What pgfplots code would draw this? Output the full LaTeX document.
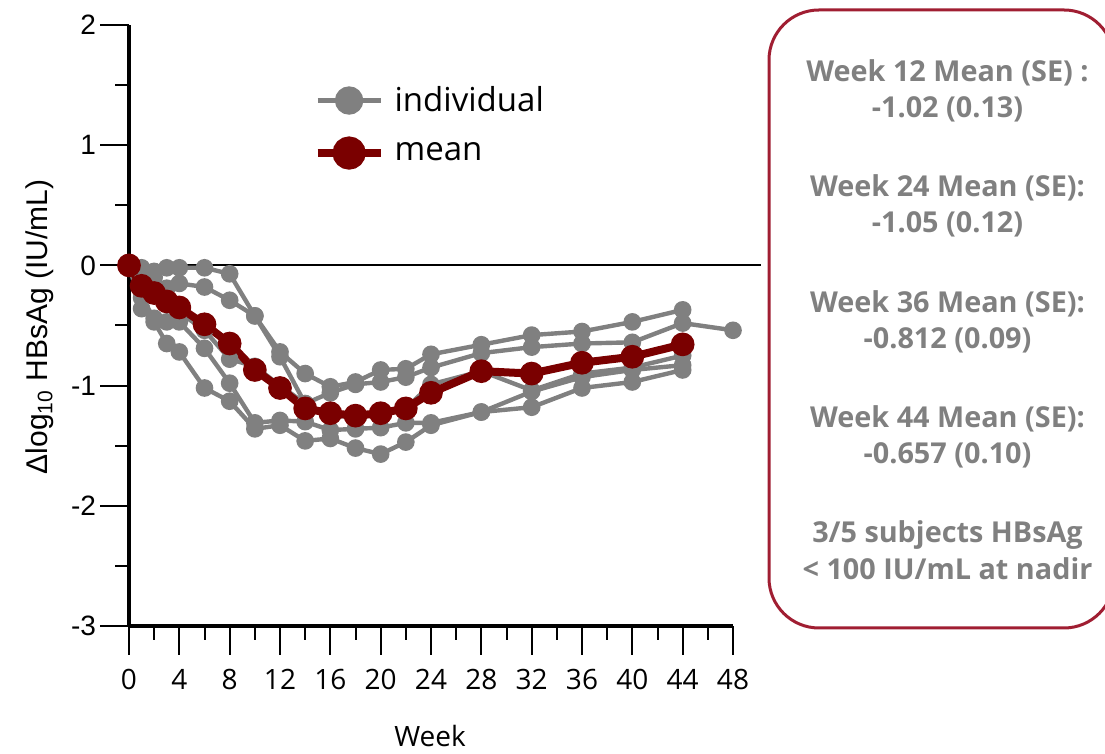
\documentclass[border=0pt]{standalone}
\usepackage{pgfplots}
\pgfplotsset{compat=1.18}
\usepackage{fontspec}
\setmainfont{Open Sans}
\newfontfamily\arialf{Liberation Sans}
\definecolor{indgray}{RGB}{128,128,128}
\definecolor{meanred}{RGB}{122,0,0}
\definecolor{boxred}{RGB}{160,30,50}
\definecolor{txtgray}{RGB}{128,128,128}
\begin{document}
\begin{tikzpicture}
\useasboundingbox (0,0) rectangle (552.5pt,377pt);
\begin{axis}[
 at={(64.5pt,64pt)}, anchor=south west,
 scale only axis, width=302pt, height=300.5pt,
 xmin=0, xmax=48, ymin=-3, ymax=2,
 axis lines=left, axis line style={-, line width=2pt},
 clip=false,
 xtick={0,4,...,48}, xticklabels={0,4,8,12,16,20,24,28,32,36,40,44,48},
 minor xtick={2,6,...,46},
 ytick={-3,...,2}, yticklabels={-3,-2,-1,0,1,2},
 minor ytick={-2.5,-1.5,...,1.5},
 tick align=outside,
 major tick length=14.5pt, minor tick length=7pt,
 every tick/.style={black, line width=1pt},
 xticklabel style={font=\fontsize{14}{16}\selectfont, yshift=-3.5pt},
 yticklabel style={font=\arialf\fontsize{14}{16}\selectfont, xshift=1.5pt},
 legend style={at={(rel axis cs:0.305,0.905)}, anchor=north west, draw=none, fill=none,
   font=\fontsize{16.5}{19}\selectfont, row sep=10pt, column sep=3pt, inner sep=0pt},
 legend cell align=left,
]
\draw[black, line width=1pt] (axis cs:0,0) -- (axis cs:50.2,0);
\addplot[indgray, line width=2.2pt, mark=*, mark size=3.3pt,
  legend image code/.code={\draw[line width=2.2pt, mark size=6pt, mark repeat=2, mark phase=2] plot coordinates {(0pt,0pt) (15.75pt,0pt) (31.5pt,0pt)};}]
 coordinates {(0,0)(1,-0.02)(2,-0.05)(3,-0.02)(4,-0.02)(6,-0.02)(8,-0.07)(10,-0.42)(12,-0.72)(14,-0.90)(16,-1.01)(18,-0.97)(20,-0.87)(22,-0.86)(24,-0.74)(28,-0.66)(32,-0.58)(36,-0.55)(40,-0.47)(44,-0.37)};
\addlegendentry{individual}
\addplot[indgray, line width=2.2pt, mark=*, mark size=3.3pt, forget plot]
 coordinates {(0,0)(1,-0.05)(2,-0.10)(3,-0.19)(4,-0.15)(6,-0.18)(8,-0.29)(10,-0.42)(12,-0.76)(14,-1.15)(16,-1.06)(18,-0.99)(20,-0.97)(22,-0.93)(24,-0.85)(28,-0.73)(32,-0.68)(36,-0.65)(40,-0.64)(44,-0.48)(48,-0.54)};
\addplot[indgray, line width=2.2pt, mark=*, mark size=3.3pt, forget plot]
 coordinates {(0,0)(1,-0.27)(2,-0.44)(3,-0.47)(4,-0.47)(6,-0.69)(8,-0.98)(10,-1.31)(12,-1.29)(14,-1.30)(16,-1.37)(18,-1.36)(20,-1.35)(22,-1.31)(24,-1.31)(28,-1.22)(32,-1.18)(36,-1.02)(40,-0.97)(44,-0.87)};
\addplot[indgray, line width=2.2pt, mark=*, mark size=3.3pt, forget plot]
 coordinates {(0,0)(1,-0.36)(2,-0.47)(3,-0.65)(4,-0.72)(6,-1.02)(8,-1.13)(10,-1.36)(12,-1.33)(14,-1.46)(16,-1.44)(18,-1.52)(20,-1.57)(22,-1.47)(24,-1.33)(28,-1.22)(32,-1.05)(36,-0.93)(40,-0.87)(44,-0.83)};
\addplot[indgray, line width=2.2pt, mark=*, mark size=3.3pt, forget plot]
 coordinates {(0,0)(1,-0.15)(2,-0.22)(3,-0.30)(4,-0.39)(6,-0.54)(8,-0.78)(10,-0.84)(12,-1.00)(14,-1.15)(16,-1.26)(18,-1.25)(20,-1.22)(22,-1.19)(24,-0.99)(28,-0.88)(32,-1.04)(36,-0.90)(40,-0.85)(44,-0.75)};
\addplot[meanred, line width=4pt, mark=*, mark size=3.9pt,
  legend image code/.code={\draw[line width=4pt, mark size=6.3pt, mark repeat=2, mark phase=2] plot coordinates {(0pt,0pt) (15.75pt,0pt) (31.5pt,0pt)};}]
 coordinates {(0,0)(1,-0.17)(2,-0.23)(3,-0.30)(4,-0.35)(6,-0.49)(8,-0.65)(10,-0.87)(12,-1.02)(14,-1.19)(16,-1.23)(18,-1.25)(20,-1.23)(22,-1.19)(24,-1.06)(28,-0.88)(32,-0.90)(36,-0.81)(40,-0.76)(44,-0.657)};
\addlegendentry{mean}
\end{axis}
\node[rotate=90, font=\arialf\fontsize{15}{18}\selectfont] at (20pt,213.5pt) {Δlog\textsubscript{10} HBsAg (IU/mL)};
\node[font=\fontsize{14}{16}\selectfont] at (215pt,9pt) {Week};
\draw[boxred, line width=1.5pt, rounded corners=25pt] (384.5pt,63pt) rectangle (557pt,372pt);
\begin{scope}[every node/.style={anchor=base, text=txtgray, font=\bfseries\fontsize{14.4}{17}\selectfont}]
\node at (473.75pt,336pt) {Week 12 Mean (SE) :};
\node at (473.75pt,318pt) {-1.02 (0.13)};
\node at (473.75pt,278.5pt) {Week 24 Mean (SE):};
\node at (473.75pt,260.5pt) {-1.05 (0.12)};
\node at (473.75pt,220.5pt) {Week 36 Mean (SE):};
\node at (473.75pt,202.5pt) {-0.812 (0.09)};
\node at (473.75pt,163pt) {Week 44 Mean (SE):};
\node at (473.75pt,145pt) {-0.657 (0.10)};
\node at (473.75pt,105.5pt) {3/5 subjects HBsAg};
\node at (473.75pt,87pt) {< 100 IU/mL at nadir};
\end{scope}
\end{tikzpicture}
\end{document}
